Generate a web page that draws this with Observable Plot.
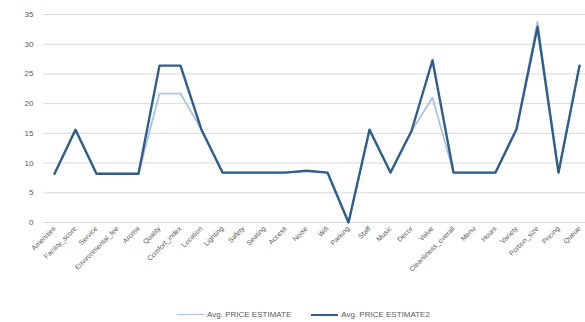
<!DOCTYPE html>
<html>
<head>
<meta charset="utf-8">
<script src="https://cdn.jsdelivr.net/npm/d3@7"></script>
<script src="https://cdn.jsdelivr.net/npm/@observablehq/plot@0.6"></script>
<style>
  body { margin: 0; background: #fff; font-family: "Liberation Sans", Arial, sans-serif; }
  #legend { display: flex; justify-content: center; align-items: flex-end; gap: 20px; font-size: 8px; color: #595959; height: 24px; padding-bottom: 3px; margin-left: 22px; }
  #legend .item { display: flex; align-items: center; gap: 3px; }
  #legend .sw { width: 27px; height: 0; }
</style>
</head>
<body>
<div id="chart"></div>
<div id="legend"></div>
<script>
const categories = ["Amenities","Facility_score","Service","Environmental_fee","Aroma","Quality","Comfort_index","Location","Lighting","Safety","Seating","Access","Noise","Wifi","Parking","Staff","Music","Decor","Value","Cleanliness_overall","Menu","Hours","Variety","Portion_size","Pricing","Queue"];
const seriesNames = ["Avg. PRICE ESTIMATE", "Avg. PRICE ESTIMATE2"];
const seriesLight = [8.2, 15.6, 8.2, 8.2, 8.2, 21.7, 21.7, 15.6, 8.4, 8.4, 8.4, 8.4, 8.7, 8.4, 0, 15.6, 8.4, 15.4, 21.0, 8.4, 8.4, 8.4, 15.7, 33.8, 8.4, 26.4];
const seriesDark  = [8.2, 15.6, 8.2, 8.2, 8.2, 26.4, 26.4, 15.6, 8.4, 8.4, 8.4, 8.4, 8.7, 8.4, 0, 15.6, 8.4, 15.4, 27.3, 8.4, 8.4, 8.4, 15.7, 32.9, 8.4, 26.4];
const yTicks = [0, 5, 10, 15, 20, 25, 30, 35];
const colors = ["#a9c5e2", "#2f5d8c"];

const light = categories.map((c, i) => ({cat: c, v: seriesLight[i]}));
const dark = categories.map((c, i) => ({cat: c, v: seriesDark[i]}));

const chart = Plot.plot({
  width: 585,
  height: 295,
  marginLeft: 43,
  marginRight: 0,
  marginTop: 14,
  marginBottom: 73,
  style: {fontFamily: "Liberation Sans, Arial, sans-serif", fontSize: "7px", color: "#595959", background: "#fff"},
  x: {type: "point", domain: categories, padding: 0, insetLeft: 10, insetRight: 5, label: null},
  y: {domain: [0, 35], ticks: yTicks, label: null},
  marks: [
    Plot.ruleY(yTicks, {stroke: "#d9d9d9", strokeWidth: 1}),
    Plot.axisY({ticks: yTicks, tickSize: 0, tickPadding: 10, fontSize: 8, label: null}),
    Plot.axisX({tickSize: 0, tickPadding: 5, tickRotate: -45, fontSize: 7, label: null}),
    Plot.line(light, {x: "cat", y: "v", stroke: colors[0], strokeWidth: 1.8}),
    Plot.line(dark, {x: "cat", y: "v", stroke: colors[1], strokeWidth: 2.4})
  ]
});
document.getElementById("chart").appendChild(chart);

const legend = document.getElementById("legend");
seriesNames.forEach((n, i) => {
  const it = document.createElement("div");
  it.className = "item";
  const sw = document.createElement("div");
  sw.className = "sw";
  sw.style.borderTop = (i === 0 ? 1.8 : 2.4) + "px solid " + colors[i];
  const t = document.createElement("span");
  t.textContent = n;
  it.appendChild(sw); it.appendChild(t);
  legend.appendChild(it);
});
</script>
</body>
</html>
